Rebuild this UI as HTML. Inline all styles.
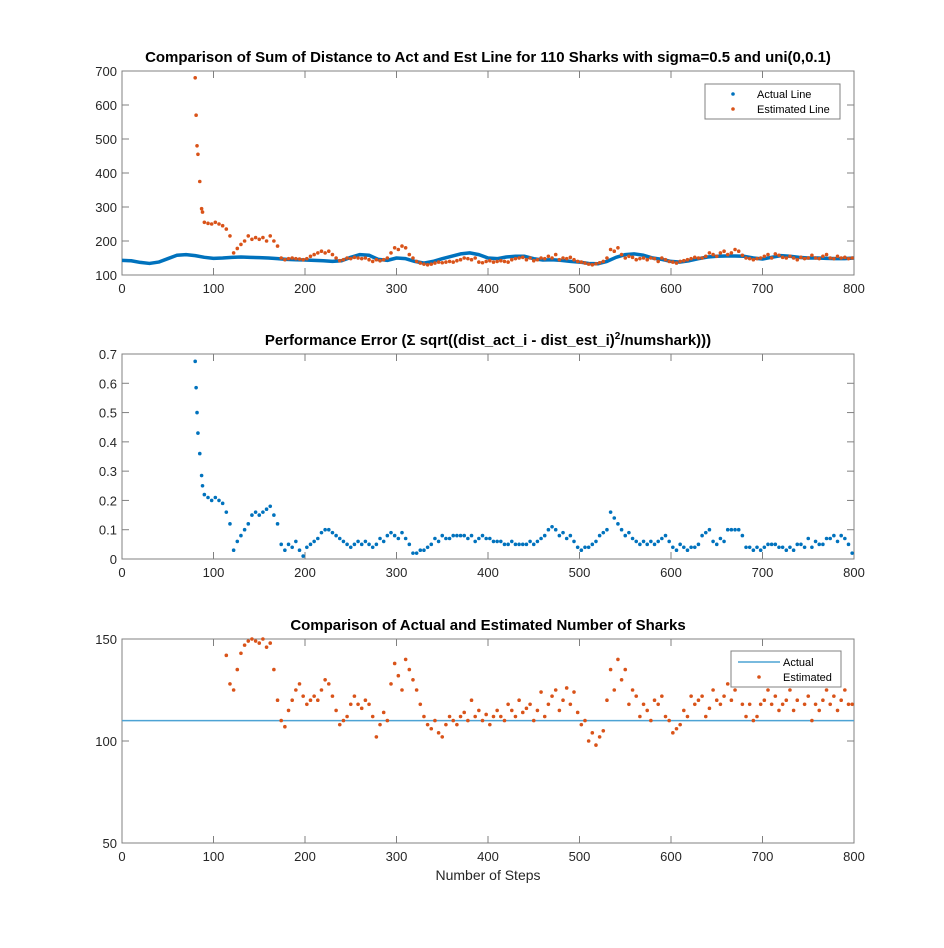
<!DOCTYPE html>
<html><head><meta charset="utf-8"><style>
body{margin:0;background:#fff;}
svg{display:block;font-family:"Liberation Sans",sans-serif;}
</style></head><body>
<svg id="fig" width="944" height="948"></svg>
<script>
// ---------- data ----------
const actualStepsTop = Array.from({length:81},(_,i)=>i*10);
const actualLineTop = [143,142,137,134,138,148,158,160,157,152,149,150,152,153,152,151,150,148,146,145,144,143,142,140,142,152,160,158,146,143,150,148,140,135,140,148,155,162,165,160,150,148,153,155,155,148,144,145,143,140,138,134,133,140,152,160,162,158,150,146,140,138,142,148,153,155,156,156,155,150,147,152,157,155,152,150,150,149,148,148,150];
const spikeSteps = [80,81,82,83,85,87,88];
const estLineSpike = [680,570,480,455,375,295,285];
const estLineBody = [255,252,250,255,250,245,235,215,
165,178,190,200,215,205,210,205,210,200,215,200,185,
150,145,148,150,148,147,145,148,155,160,165,170,165,170,160,
150,142,145,150,148,152,150,148,150,145,140,145,142,145,150,
165,180,175,185,180,160,150,140,135,132,130,132,135,138,136,
138,140,138,142,145,150,148,145,150,138,136,140,142,138,140,
142,140,138,145,148,150,152,145,150,142,145,150,148,155,150,
160,145,150,148,152,145,140,138,135,132,130,133,136,140,150,
175,170,180,160,150,155,152,145,148,150,145,150,148,140,150,
145,140,138,135,140,142,145,148,152,150,150,155,165,160,155,
165,170,160,165,175,170,158,150,148,145,148,150,155,160,150,
162,158,152,150,155,150,145,152,148,150,158,150,148,155,160,
150,148,155,150,152,148,150];
const errSpike = [0.675,0.585,0.5,0.43,0.36,0.285,0.25];
const errBody = [0.22,0.21,0.2,0.21,0.2,0.19,0.16,0.12,
0.03,0.06,0.08,0.1,0.12,0.15,0.16,0.15,0.16,0.17,0.18,0.15,0.12,
0.05,0.03,0.05,0.04,0.06,0.03,0.01,0.04,0.05,0.06,0.07,0.09,0.1,0.1,0.09,
0.08,0.07,0.06,0.05,0.04,0.05,0.06,0.05,0.06,0.05,0.04,0.05,0.07,0.06,0.08,
0.09,0.08,0.07,0.09,0.07,0.05,0.02,0.02,0.03,0.03,0.04,0.05,0.07,0.06,0.08,
0.07,0.07,0.08,0.08,0.08,0.08,0.07,0.08,0.06,0.07,0.08,0.07,0.07,0.06,0.06,
0.06,0.05,0.05,0.06,0.05,0.05,0.05,0.05,0.06,0.05,0.06,0.07,0.08,0.1,0.11,
0.1,0.08,0.09,0.07,0.08,0.06,0.04,0.03,0.04,0.04,0.05,0.06,0.08,0.09,0.1,
0.16,0.14,0.12,0.1,0.08,0.09,0.07,0.06,0.05,0.06,0.05,0.06,0.05,0.06,0.07,
0.08,0.06,0.04,0.03,0.05,0.04,0.03,0.04,0.04,0.05,0.08,0.09,0.1,0.06,0.05,
0.07,0.06,0.1,0.1,0.1,0.1,0.08,0.04,0.04,0.03,0.04,0.03,0.04,0.05,0.05,
0.05,0.04,0.04,0.03,0.04,0.03,0.05,0.05,0.04,0.07,0.04,0.06,0.05,0.05,0.07,
0.07,0.08,0.06,0.08,0.07,0.05,0.02];
const actualSharks = 110;
const estSharks = [142,128,125,135,143,147,149,150,149,148,150,146,148,135,120,
110,107,115,120,125,128,122,118,120,122,120,125,130,128,122,
115,108,110,112,118,122,118,116,120,118,112,102,108,114,110,
128,138,132,125,140,135,130,125,118,112,108,106,110,104,102,
108,112,110,108,112,114,110,120,112,115,110,113,108,112,115,
112,110,118,115,112,120,114,116,118,110,115,124,112,118,122,
125,115,120,126,118,124,114,108,110,100,104,98,102,105,120,
135,125,140,130,135,118,125,122,112,118,115,110,120,118,122,
112,110,104,106,108,115,112,122,118,120,122,112,116,125,120,
118,122,128,120,125,132,118,112,118,110,112,118,120,125,118,
122,115,118,120,125,115,120,128,118,122,110,118,115,120,125,
118,122,115,120,125,118,118];
const xTicks = [0,100,200,300,400,500,600,700,800];
const yTicks1 = [100,200,300,400,500,600,700];
const yTicks2 = [0,0.1,0.2,0.3,0.4,0.5,0.6,0.7];
const yTicks3 = [50,100,150];

// ---------- drawing ----------
const NS='http://www.w3.org/2000/svg';
const svg=document.getElementById('fig');
function mk(tag,attrs,parent){const e=document.createElementNS(NS,tag);for(const k in attrs)e.setAttribute(k,attrs[k]);(parent||svg).appendChild(e);return e;}
const X0=122,X1=854;
const xs=v=>X0+(v/800)*(X1-X0);
const BLUE='#0072BD',ORANGE='#D95319';

function axes(name,top,bot,ymin,ymax,yt,fmt,title){
  const g=mk('g',{});
  
  
  const ys=v=>bot-(v-ymin)/(ymax-ymin)*(bot-top);
  mk('rect',{x:X0,y:top,width:X1-X0,height:bot-top,fill:'none',stroke:'#808080','stroke-width':1},g);
  xTicks.forEach(t=>{
    const x=xs(t);
    mk('line',{x1:x,y1:bot,x2:x,y2:bot-7,stroke:'#808080'},g);
    mk('line',{x1:x,y1:top,x2:x,y2:top+7,stroke:'#808080'},g);
    const tx=mk('text',{x:x,y:bot+18,'text-anchor':'middle','font-size':13,fill:'#262626'},g);
    tx.textContent=t;
    
    
  });
  yt.forEach(t=>{
    const y=ys(t);
    mk('line',{x1:X0,y1:y,x2:X0+7,y2:y,stroke:'#808080'},g);
    mk('line',{x1:X1,y1:y,x2:X1-7,y2:y,stroke:'#808080'},g);
    const tx=mk('text',{x:X0-5,y:y+5,'text-anchor':'end','font-size':13,fill:'#262626'},g);
    tx.textContent=fmt(t);
    
    
  });
  const ti=mk('text',{x:(X0+X1)/2,y:top-9,'text-anchor':'middle','font-size':15,'font-weight':'bold',fill:'#000'},g);
  ti.innerHTML=title;
  
  
  return ys;
}
function dot(x,y,c,name){
  const d=mk('circle',{cx:x,cy:y,r:1.8,fill:c});
  
  
}

// chart 1
const ys1=axes('distance-chart',71,275,100,700,yTicks1,t=>t,'Comparison of Sum of Distance to Act and Est Line for 110 Sharks with sigma=0.5 and uni(0,0.1)');
const pl=mk('polyline',{fill:'none',stroke:BLUE,'stroke-width':3.5,'stroke-linejoin':'round',points:actualLineTop.map((v,i)=>xs(actualStepsTop[i])+','+ys1(v)).join(' ')});


estLineSpike.forEach((v,i)=>dot(xs(spikeSteps[i]),ys1(v),ORANGE,'estimated-line-point'));
estLineBody.forEach((v,i)=>dot(xs(90+4*i),ys1(v),ORANGE,'estimated-line-point'));
// legend 1
{const g=mk('g',{});
mk('rect',{x:705,y:84,width:135,height:35,fill:'#fff',stroke:'#808080'},g);
mk('circle',{cx:733,cy:94,r:1.8,fill:BLUE},g);mk('circle',{cx:733,cy:109,r:1.8,fill:ORANGE},g);
const a=mk('text',{x:757,y:98,'font-size':11},g);a.textContent='Actual Line';
const b=mk('text',{x:757,y:113,'font-size':11},g);b.textContent='Estimated Line';}

// chart 2
const ys2=axes('error-chart',354,559,0,0.7,yTicks2,t=>t===0?'0':String(t),'Performance Error (&#931; sqrt((dist_act_i - dist_est_i)<tspan dy="-6" font-size="10">2</tspan><tspan dy="6">/numshark)))</tspan>');
errSpike.forEach((v,i)=>dot(xs(spikeSteps[i]),ys2(v),BLUE,'error-point'));
errBody.forEach((v,i)=>dot(xs(90+4*i),ys2(v),BLUE,'error-point'));

// chart 3
const ys3=axes('sharks-chart',639,843,50,150,yTicks3,t=>t,'Comparison of Actual and Estimated Number of Sharks');
const al=mk('line',{x1:X0,x2:X1,y1:ys3(actualSharks),y2:ys3(actualSharks),stroke:'#4DA3D4','stroke-width':1.5});


estSharks.forEach((v,i)=>dot(xs(114+4*i),ys3(v),ORANGE,'estimated-sharks-point'));
{const g=mk('g',{});
mk('rect',{x:731,y:651,width:110,height:36,fill:'#fff',stroke:'#808080'},g);
mk('line',{x1:738,x2:780,y1:662,y2:662,stroke:'#4DA3D4','stroke-width':1.5},g);
mk('circle',{cx:759,cy:677,r:1.8,fill:ORANGE},g);
const a=mk('text',{x:783,y:666,'font-size':11},g);a.textContent='Actual';
const b=mk('text',{x:783,y:681,'font-size':11},g);b.textContent='Estimated';}
const xl=mk('text',{x:488,y:880,'text-anchor':'middle','font-size':14,fill:'#262626'});
xl.textContent='Number of Steps';


</script>
</body></html>
